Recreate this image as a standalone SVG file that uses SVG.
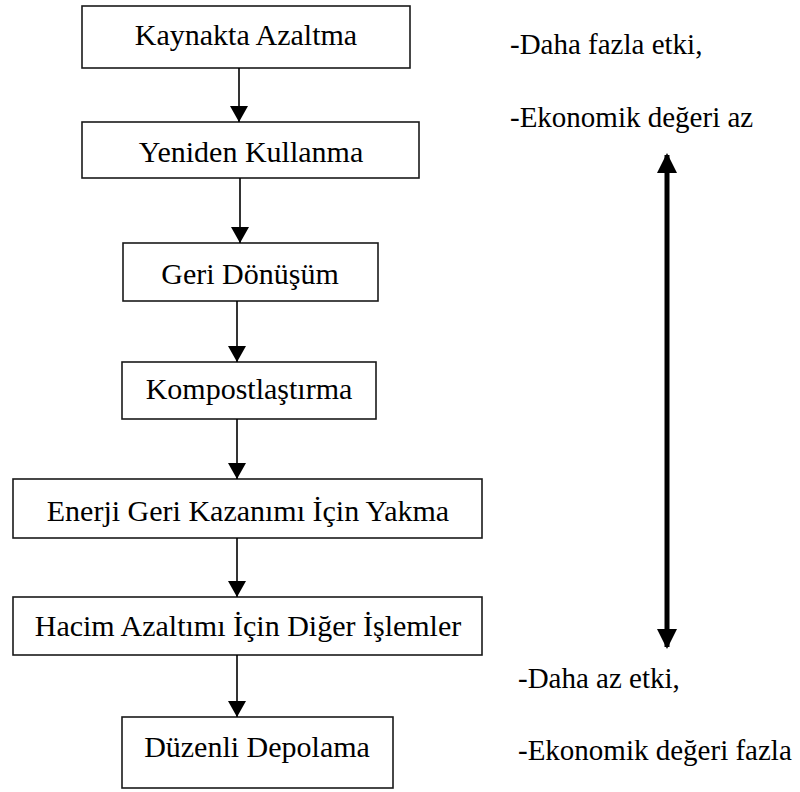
<svg xmlns="http://www.w3.org/2000/svg" width="800" height="792" viewBox="0 0 800 792">
<defs>
<style>
.box{fill:#fff;stroke:#1a1a1a;stroke-width:1.6}
.t{font-family:"Liberation Serif","Tinos","Times New Roman","DejaVu Serif",serif;font-size:30px;fill:#000;text-anchor:middle}
.s{font-family:"Liberation Serif","Tinos","Times New Roman","DejaVu Serif",serif;font-size:29px;fill:#000}
.c{stroke:#000;stroke-width:1.6;fill:none}
.big{stroke:#000;stroke-width:5;fill:none}
</style>
<marker id="ah" viewBox="0 0 16 18" refX="16" refY="9" markerWidth="16" markerHeight="18" markerUnits="userSpaceOnUse" orient="auto">
<path d="M0,0 L16,9 L0,18 Z" fill="#000"/>
</marker>
<marker id="bh" viewBox="0 0 20 20" refX="18" refY="10" markerWidth="20" markerHeight="20" markerUnits="userSpaceOnUse" orient="auto-start-reverse">
<path d="M0,0 L20,10 L0,20 Z" fill="#000"/>
</marker>
</defs>
<g id="n1"><rect class="box" x="82" y="6" width="328" height="62"/><text class="t" x="246" y="45">Kaynakta Azaltma</text></g>
<g id="n2"><rect class="box" x="82" y="122" width="337" height="56"/><text class="t" x="251" y="162">Yeniden Kullanma</text></g>
<g id="n3"><rect class="box" x="123" y="243" width="255" height="58"/><text class="t" x="250" y="284">Geri Dönüşüm</text></g>
<g id="n4"><rect class="box" x="122" y="362" width="254" height="57"/><text class="t" x="249" y="399">Kompostlaştırma</text></g>
<g id="n5"><rect class="box" x="13" y="479" width="469" height="59"/><text class="t" x="248" y="521">Enerji Geri Kazanımı İçin Yakma</text></g>
<g id="n6"><rect class="box" x="13" y="597" width="469" height="58"/><text class="t" x="248" y="636">Hacim Azaltımı İçin Diğer İşlemler</text></g>
<g id="n7"><rect class="box" x="122" y="717" width="271" height="71"/><text class="t" x="257" y="757">Düzenli Depolama</text></g>
<g id="labels">
<text class="s" x="510" y="54">-Daha fazla etki,</text>
<text class="s" x="510" y="127">-Ekonomik değeri az</text>
<text class="s" x="518" y="688">-Daha az etki,</text>
<text class="s" x="518" y="760">-Ekonomik değeri fazla</text>
</g>
<g id="connectors">
<line class="c" x1="239" y1="68" x2="239" y2="122" marker-end="url(#ah)"/>
<line class="c" x1="240" y1="178" x2="240" y2="243" marker-end="url(#ah)"/>
<line class="c" x1="237" y1="301" x2="237" y2="362" marker-end="url(#ah)"/>
<line class="c" x1="237" y1="419" x2="237" y2="479" marker-end="url(#ah)"/>
<line class="c" x1="237" y1="538" x2="237" y2="597" marker-end="url(#ah)"/>
<line class="c" x1="237" y1="655" x2="237" y2="717" marker-end="url(#ah)"/>
<line class="big" x1="667" y1="155" x2="667" y2="647" marker-start="url(#bh)" marker-end="url(#bh)"/>
</g>
</svg>
